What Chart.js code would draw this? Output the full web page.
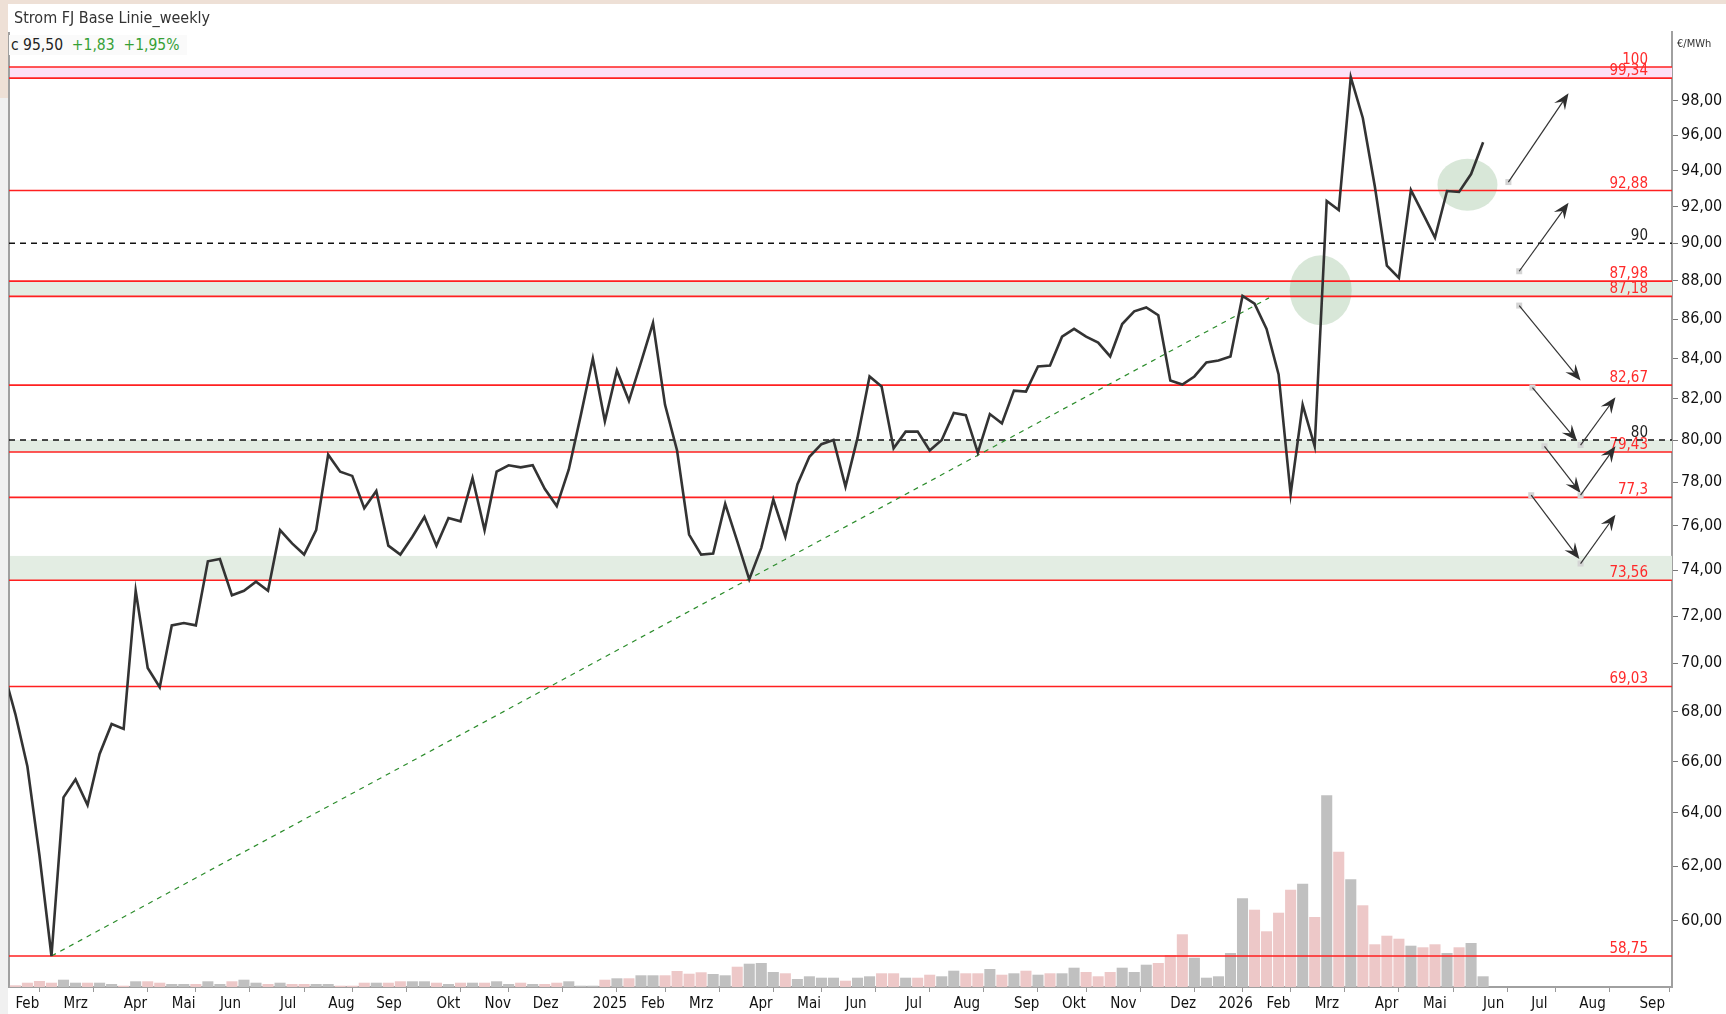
<!DOCTYPE html>
<html lang="de">
<head>
    <meta charset="UTF-8">
    <title>Strom FJ Base Linie_weekly</title>
    <script src="https://cdn.jsdelivr.net/npm/chart.js"></script>
    <style>
        body { margin: 0; background: #fff; font-family: 'DejaVu Sans Condensed', 'DejaVu Sans', sans-serif; }
        #wrap { position: relative; width: 1726px; height: 1014px; overflow: hidden; }
        #chart { position: absolute; left: 0; top: 0; }
        .txt { position: absolute; white-space: nowrap; line-height: 20px; }
    </style>
</head>
<body>
<div id="wrap">
    <canvas id="chart" width="1726" height="1014"></canvas>
    <div class="txt" style="left:14px; top:8px; font-size:16px; color:#333;">Strom FJ Base Linie_weekly</div>
    <div class="txt" style="left:9px; top:35px; font-size:15.5px; color:#222; background:#fafafa; padding:0 8px 0 2px;">c 95,50 &nbsp;<span style="color:#35a035">+1,83</span> &nbsp;<span style="color:#35a035">+1,95%</span></div>
    <div class="txt" style="left:1677px; top:34px; font-size:11px; color:#333;">€/MWh</div>
</div>

<script>
    // week numbers: 0 = week of 4 Feb 2024, one step per week
    const firstWeek = -1;

    // weekly closing price in €/MWh (from week -1 to week 122)
    const price = [
        69.7, 67.9, 65.8, 62.4, 58.75, 64.6, 65.3, 64.3, 66.3, 67.5,
        67.3, 73.1, 69.8, 69.0, 71.6, 71.7, 71.6, 74.4, 74.5, 72.9,
        73.1, 73.5, 73.1, 75.8, 75.2, 74.7, 75.8, 79.3, 78.5, 78.3,
        76.8, 77.6, 75.1, 74.7, 75.5, 76.4, 75.1, 76.35, 76.2, 78.2,
        75.8, 78.5, 78.8, 78.7, 78.8, 77.7, 76.9, 78.6, 81.2, 84.0,
        80.9, 83.4, 81.9, 83.8, 85.8, 81.7, 79.5, 75.6, 74.7, 74.75,
        77.0, 75.3, 73.6, 75.0, 77.2, 75.5, 77.9, 79.2, 79.8, 80.0,
        77.8, 80.1, 83.1, 82.6, 79.6, 80.4, 80.4, 79.5, 80.0, 81.3,
        81.2, 79.4, 81.25, 80.8, 82.4, 82.35, 83.6, 83.65, 85.1, 85.5,
        85.1, 84.8, 84.1, 85.75, 86.4, 86.6, 86.2, 82.9, 82.7, 83.1,
        83.8, 83.9, 84.1, 87.2, 86.8, 85.5, 83.2, 77.45, 81.7, 79.7,
        92.3, 91.8, 99.4, 97.0, 93.1, 88.8, 88.15, 92.9, 91.6, 90.3,
        92.85, 92.8, 93.8, 95.6
    ];

    // weekly volume (relative units), weeks 0..122
    const volume = [
        1.7, 4.3, 6, 4.3, 7.3, 4.3, 4.3, 4.3, 3, 1.3,
        5.7, 5.7, 4.3, 3, 3, 3, 5.7, 3, 5.7, 7.3,
        4.3, 3, 4.3, 3, 3, 3, 3, 1.3, 1.3, 4.3,
        4.3, 4.3, 5.7, 5.7, 5.7, 4.3, 3, 4.3, 4.3, 4.3,
        5.7, 3, 4.3, 3, 3, 4.3, 5.7, 1.3, 1.3, 7.3,
        8.7, 8.7, 11.7, 11.7, 11.7, 16, 13.3, 14.7, 13, 11.7,
        20.3, 23.3, 24, 15, 13.7, 8, 10.7, 9.3, 9.3, 6.3,
        9.3, 10.7, 13.7, 13.7, 9.3, 9.3, 12.3, 10.7, 16.3, 13.7,
        13.7, 18, 12.3, 13.7, 16.3, 12.3, 13.7, 13.7, 19.3, 15,
        10.7, 15, 19.3, 15, 22.3, 24, 32, 52.7, 29.3, 9.3,
        10.7, 34, 88.7, 77.3, 55.7, 74.3, 97.3, 103.3, 70, 191.7,
        135.3, 107.7, 81.7, 42.7, 51.3, 48.3, 41.3, 39.7, 42.7, 34,
        39.7, 44, 10.7
    ];
    // 1 = up week, 0 = down week
    const volUp = [
        0,0,0,0,1,1,0,1,1,0, 1,0,0,1,1,0,1,1,0,1, 1,0,1,0,0,1,1,0,0,0,
        1,0,0,1,1,0,1,0,1,0, 1,1,0,1,0,0,1,1,1,0, 1,0,1,1,0,0,0,0,1,1,
        0,1,1,1,0,1,1,1,1,0, 1,1,0,0,1,0,0,1,1,0, 0,1,0,1,0,1,0,1,1,0,
        0,0,1,1,1,0,0,0,1,1, 1,1,1,0,0,0,0,1,0,1, 0,1,0,0,0,0,1,0,0,1,
        0,1,1
    ];

    const monthTicks = [0, 4, 9, 13, 17, 22, 26, 30, 35, 39, 43, 48, 52, 56, 61, 65, 69, 74, 78, 83, 87, 91, 96, 100, 104, 108, 113, 117, 122, 126, 130, 135];
    const monthLabels = ['Feb', 'Mrz', 'Apr', 'Mai', 'Jun', 'Jul', 'Aug', 'Sep', 'Okt', 'Nov', 'Dez', '2025', 'Feb', 'Mrz', 'Apr', 'Mai', 'Jun', 'Jul', 'Aug', 'Sep', 'Okt', 'Nov', 'Dez', '2026', 'Feb', 'Mrz', 'Apr', 'Mai', 'Jun', 'Jul', 'Aug', 'Sep'];
    const yTicks = [60, 62, 64, 66, 68, 70, 72, 74, 76, 78, 80, 82, 84, 86, 88, 90, 92, 94, 96, 98];

    // horizontal levels
    const redLevels = [100, 99.34, 92.88, 87.98, 87.18, 82.67, 79.43, 77.3, 73.56, 69.03, 58.75];
    const redLabels = ['100', '99,34', '92,88', '87,98', '87,18', '82,67', '79,43', '77,3', '73,56', '69,03', '58,75'];
    const dashLevels = [90, 80];
    const dashLabels = ['90', '80'];
    const bandLow = [99.34, 87.18, 79.43, 73.56];
    const bandHigh = [100, 87.98, 80.0, 74.64];
    const bandKind = ['pink', 'green', 'green', 'green'];

    // trend line (week, price)
    const trendFrom = [3, 58.75];
    const trendTo = [104.2, 87.1];

    // arrows: [week, price] -> [week, price]
    const arrowFrom = [[124.1, 93.35], [125.0, 88.5], [125.0, 86.7], [126.1, 82.55], [130.1, 79.76], [127.1, 79.7], [130.1, 77.4], [126.0, 77.4], [130.1, 74.3]];
    const arrowTo = [[129.1, 98.44], [129.1, 92.2], [130.1, 82.9], [129.8, 79.96], [133.0, 82.07], [130.1, 77.5], [133.0, 79.7], [130.0, 74.5], [133.0, 76.5]];

    // highlighted zones (week, price)
    const circleAt = [[108.5, 87.5], [120.7, 93.2]];

    const FONT = "'DejaVu Sans Condensed', 'DejaVu Sans', sans-serif";
    Chart.defaults.font.family = FONT;

    const overlay = {
        id: 'overlay',
        beforeDraw(chart) {
            const c = chart.ctx;
            c.save();
            c.fillStyle = '#ffffff';
            c.fillRect(0, 0, chart.width, chart.height);
            c.fillStyle = '#f0f0f0';
            c.fillRect(0, 0, 8, chart.height);
            c.fillStyle = '#eee0d6';
            c.fillRect(0, 0, chart.width, 4);
            c.fillRect(0, 0, 8, 98);
            c.restore();
        },
        beforeDatasetsDraw(chart) {
            const { ctx: c, chartArea: a, scales: { y } } = chart;
            c.save();
            bandLow.forEach((lo, i) => {
                const top = y.getPixelForValue(bandHigh[i]);
                const bottom = y.getPixelForValue(lo);
                c.fillStyle = bandKind[i] === 'pink' ? '#fde1f6' : '#e3ede3';
                c.fillRect(a.left, top, a.right - a.left, bottom - top);
            });
            c.strokeStyle = '#a0a0a0';
            c.lineWidth = 2;
            c.beginPath();
            c.moveTo(a.left, a.top);
            c.lineTo(a.left, a.bottom);
            c.stroke();
            c.restore();
        },
        afterDatasetDraw(chart, args) {
            if (args.index !== 2) return;
            const { ctx: c, chartArea: a, scales: { x, y } } = chart;
            c.save();
            c.beginPath();
            c.rect(a.left, a.top, a.right - a.left, a.bottom - a.top);
            c.clip();

            // green circles
            const radii = [[31, 35], [30, 26]];
            circleAt.forEach((p, i) => {
                c.fillStyle = 'rgba(125,175,125,0.3)';
                c.beginPath();
                c.ellipse(x.getPixelForValue(p[0]), y.getPixelForValue(p[1]), radii[i][0], radii[i][1], 0, 0, Math.PI * 2);
                c.fill();
            });

            const labelX = a.right - 24;
            c.textAlign = 'right';
            c.textBaseline = 'alphabetic';
            c.font = '15px ' + FONT;

            // red levels
            redLevels.forEach((v, i) => {
                const py = y.getPixelForValue(v);
                c.strokeStyle = '#ff2020';
                c.lineWidth = 1.6;
                c.beginPath();
                c.moveTo(a.left, py);
                c.lineTo(a.right, py);
                c.stroke();
                c.fillStyle = '#ff2a2a';
                c.fillText(redLabels[i], labelX, py - 3);
            });

            // dashed levels
            dashLevels.forEach((v, i) => {
                const py = y.getPixelForValue(v);
                c.strokeStyle = '#111';
                c.lineWidth = 1.5;
                c.setLineDash([6, 5]);
                c.beginPath();
                c.moveTo(a.left, py);
                c.lineTo(a.right, py);
                c.stroke();
                c.setLineDash([]);
                c.fillStyle = '#222';
                c.fillText(dashLabels[i], labelX, py - 3);
            });
            c.restore();
        },
        afterDatasetsDraw(chart) {
            const { ctx: c, scales: { x, y } } = chart;
            c.save();
            arrowFrom.forEach((f, i) => {
                const x0 = x.getPixelForValue(f[0]), y0 = y.getPixelForValue(f[1]);
                const x1 = x.getPixelForValue(arrowTo[i][0]), y1 = y.getPixelForValue(arrowTo[i][1]);
                const ang = Math.atan2(y1 - y0, x1 - x0);
                // start marker
                c.fillStyle = '#d4d4d4';
                c.fillRect(x0 - 3, y0 - 3, 6, 6);
                c.strokeStyle = '#333';
                c.lineWidth = 1.2;
                c.beginPath();
                c.moveTo(x0, y0);
                c.lineTo(x1 - Math.cos(ang) * 8, y1 - Math.sin(ang) * 8);
                c.stroke();
                // head
                const len = 16, half = 6.5, notch = 10;
                const bx = x1 - Math.cos(ang) * len, by = y1 - Math.sin(ang) * len;
                const nx = x1 - Math.cos(ang) * notch, ny = y1 - Math.sin(ang) * notch;
                c.fillStyle = '#2e2e2e';
                c.beginPath();
                c.moveTo(x1, y1);
                c.lineTo(bx + Math.sin(ang) * half, by - Math.cos(ang) * half);
                c.lineTo(nx, ny);
                c.lineTo(bx - Math.sin(ang) * half, by + Math.cos(ang) * half);
                c.closePath();
                c.fill();
            });
            c.restore();
        }
    };

    const ctx = document.getElementById('chart').getContext('2d');
    const chart = new Chart(ctx, {
        type: 'bar',
        data: {
            datasets: [
                {
                    type: 'line',
                    label: 'Strom FJ Base',
                    data: price.map((v, i) => ({ x: firstWeek + i, y: v })),
                    borderColor: '#333',
                    borderWidth: 2.6,
                    pointRadius: 0,
                    tension: 0,
                    yAxisID: 'y',
                    order: 0
                },
                {
                    type: 'line',
                    label: 'Trend',
                    data: [{ x: trendFrom[0], y: trendFrom[1] }, { x: trendTo[0], y: trendTo[1] }],
                    borderColor: '#2b8c2b',
                    borderWidth: 1.2,
                    borderDash: [5, 5],
                    pointRadius: 0,
                    yAxisID: 'y',
                    order: 1
                },
                {
                    type: 'bar',
                    label: 'Volumen',
                    data: volume.map((v, i) => ({ x: i, y: v })),
                    backgroundColor: volUp.map(u => u ? '#c0c0c0' : '#edc8c8'),
                    barPercentage: 0.92,
                    categoryPercentage: 1,
                    yAxisID: 'vol',
                    order: 2
                }
            ]
        },
        options: {
            responsive: false,
            animation: false,
            layout: { padding: { left: 9, top: 32, right: 0, bottom: 0 } },
            plugins: {
                legend: { display: false },
                tooltip: { enabled: false }
            },
            scales: {
                x: {
                    type: 'linear',
                    position: 'bottom',
                    min: -0.53,
                    max: 137.7,
                    offset: false,
                    grid: { drawOnChartArea: false, tickLength: 5, color: '#999' },
                    border: { color: '#a0a0a0', width: 2 },
                    afterBuildTicks: s => { s.ticks = monthTicks.map(v => ({ value: v })); },
                    afterFit: s => { s.height = 27; },
                    ticks: {
                        autoSkip: false,
                        maxRotation: 0,
                        align: 'start',
                        padding: 3,
                        color: '#111',
                        font: { size: 15 },
                        callback: v => monthLabels[monthTicks.indexOf(v)]
                    }
                },
                y: {
                    type: 'logarithmic',
                    position: 'right',
                    min: 57.67,
                    max: 102.12,
                    grid: { drawOnChartArea: false, tickLength: 6, color: '#777' },
                    border: { color: '#a0a0a0', width: 2 },
                    afterBuildTicks: s => { s.ticks = yTicks.map(v => ({ value: v })); },
                    afterFit: s => { s.width = 54; },
                    ticks: {
                        padding: 3,
                        color: '#111',
                        font: { size: 16 },
                        callback: v => Number(v).toFixed(2).replace('.', ',')
                    }
                },
                vol: {
                    type: 'linear',
                    display: false,
                    min: 0,
                    max: 955
                }
            }
        },
        plugins: [overlay]
    });
</script>
</body>
</html>
